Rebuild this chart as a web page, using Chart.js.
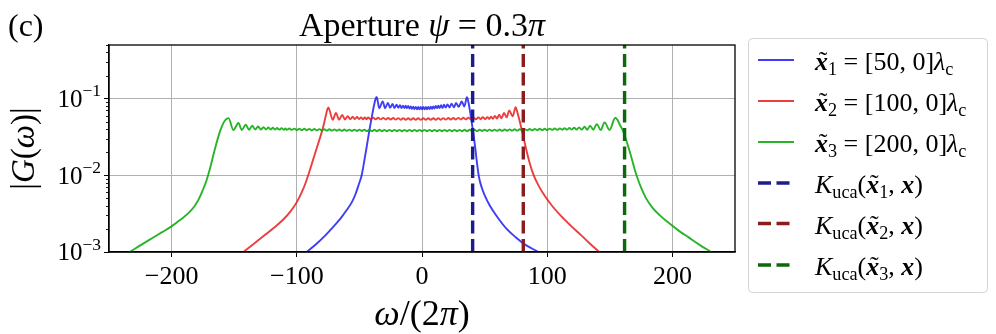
<!DOCTYPE html>
<html><head><meta charset="utf-8">
<script src="https://cdn.jsdelivr.net/npm/chart.js@4/dist/chart.umd.min.js"></script>
<style>html,body{margin:0;padding:0;background:#fff;overflow:hidden}</style>
</head><body>
<canvas id="c" width="996" height="334"></canvas>
<script>
// ---------------- data ----------------
const xTicks = [-200, -100, 0, 100, 200];
const yMajor = [0.001, 0.01, 0.1];
const yMajorExp = ['\u22123', '\u22122', '\u22121'];
const yMinor = [0.002,0.003,0.004,0.005,0.006,0.007,0.008,0.009,0.02,0.03,0.04,0.05,0.06,0.07,0.08,0.09,0.2,0.3,0.4,0.5];
const kernelX = [40.45, 80.9, 161.8];   // K_uca positions for x1, x2, x3

// |G(omega)| for x1 = [50,0]
const blueX = [-98,-92,-84,-77,-70.8,-65,-60,-56,-53,-50.5,-48.2,-46.2,-44.2,-42.2,-40.2,-38.6,-37.2,-36.2,-34.1,-31.4,-29.5,-27.2,-25.5,-23.5,-22,-20.3,-19,-17.6,-16.4,-15.2,-14,
 -13,-12,-11,-10,-9,-8,-7,-6,-5,-4,-3,-2,-1,0,1,2,3,4,5,6,7,8,9,10,11,12,13,14,
 15.2,16.4,17.6,19,20.3,22,23.5,25.5,27.2,29.3,31.7,33.8,35.9,37,38.3,39.6,41,42.5,44,45.5,47.5,50,54,60,67.6,75,83,93,99];
const blueY = [0.00083,0.001,0.00129,0.00166,0.00214,0.00275,0.00355,0.00447,0.00575,0.00759,0.01,0.0151,0.0234,0.0372,0.0562,0.0776,0.0977,0.105,0.075,0.092,0.075,0.088,0.076,0.085,0.0755,0.083,0.076,0.082,0.0755,0.081,0.0755,
 0.0807,0.0751,0.0803,0.0741,0.0792,0.0734,0.0785,0.0729,0.0781,0.0726,0.0778,0.0724,0.0776,0.0724,0.0776,0.0724,0.0778,0.0726,0.0781,0.0729,0.0785,0.0734,0.0792,0.0741,0.0803,0.0751,0.0807,0.0755,
 0.082,0.0757,0.083,0.0762,0.084,0.0765,0.086,0.077,0.088,0.078,0.092,0.079,0.104,0.0912,0.0692,0.0501,0.0355,0.0229,0.0141,0.0095,0.00708,0.0055,0.00407,0.00288,0.002,0.00155,0.00123,0.001,0.00087];

// |G(omega)| for x2 = [100,0]
const redX = [-150,-142.7,-134,-126,-118,-111,-105,-100,-96,-93,-90.5,-88,-85.5,-83,-80.5,-78.5,-76.8,-75.6,-74.8,-71.3,-68.7,-66.3,-63.7,-61.5,-59.3,-57.3,-55.4,-53.6,-51.9,-50.3,-48.7,-47.2,-45.7,-44.2,
 -43,-41,-39,-37,-35,-33,-31,-29,-27,-25,-23,-21,-19,-17,-15,-13,-11,-9,-7,-5,-3,-1,1,3,5,7,9,11,13,15,17,19,21,23,25,27,29,31,33,35,37,39,41,43,45,
 46.8,48.6,50.4,52.3,53.7,55.1,56.6,58.2,59.9,61.6,63.5,65.5,67.6,69.7,72.4,74.8,76,77.5,79,81,83.5,86,89,93,98,104,111,119,127,134,141.6,148];
const redY = [0.00081,0.001,0.00129,0.00164,0.00209,0.00263,0.00339,0.00447,0.00603,0.00794,0.0105,0.0141,0.0191,0.0257,0.0347,0.0457,0.0603,0.0724,0.0767,0.053,0.065,0.053,0.061,0.0535,0.059,0.054,0.058,0.0541,0.0575,0.054,0.057,0.0539,0.0568,0.0539,
 0.0567,0.0538,0.0565,0.0537,0.0563,0.0536,0.0561,0.0535,0.0559,0.0534,0.0558,0.0532,0.0557,0.0531,0.0556,0.053,0.0555,0.0529,0.0555,0.0529,0.0555,0.0528,0.0555,0.0529,0.0555,0.0529,0.0555,0.053,0.0556,0.0531,0.0557,0.0532,0.0558,0.0533,0.0559,0.0534,0.0561,0.0535,0.0563,0.0536,0.0565,0.0537,0.0567,0.0538,0.057,
 0.0539,0.0573,0.054,0.0574,0.0542,0.058,0.0545,0.0595,0.0549,0.0615,0.0554,0.065,0.057,0.070,0.0587,0.077,0.0676,0.055,0.0437,0.0316,0.0209,0.0145,0.0102,0.0074,0.0054,0.00398,0.00295,0.00219,0.00166,0.00129,0.001,0.00081];

// |G(omega)| for x3 = [200,0]
const greenX = [-240,-233.5,-225,-216,-208,-200,-193,-187,-182,-178,-175,-172,-169.5,-167,-164.5,-162,-160,-158,-156.2,-154.5,-150.7,-146.6,-144,-140.8,-138.2,-135.6,-133.2,-130.9,-128.7,-126.6,-124.6,-122.7,-120.9,-119.1,-117.4,-115.7,-114,-112.2,-110.2,-109,
 -108,-106,-104,-102,-100,-98,-96,-94,-92,-90,-88,-86,-84,-82,-80,-78,-76,-74,-72,-70,-68,-66,-64,-62,-60,-58,-56,-54,-52,-50,-48,-46,-44,-42,-40,-38,-36,-34,-32,-30,-28,-26,-24,-22,-20,-18,-16,-14,-12,-10,-8,-6,-4,-2,
 0,2,4,6,8,10,12,14,16,18,20,22,24,26,28,30,32,34,36,38,40,42,44,46,48,50,52,54,56,58,60,62,64,66,68,70,72,74,76,78,80,82,84,86,88,90,92,94,96,98,100,102,104,106,108,
 110,112,113.9,115.8,117.7,119.6,121.5,123.5,125.5,127.6,129.8,132,134.3,136.8,139.6,142.8,145.8,149.8,154.4,156.2,158,160,162.5,165,167.5,170,172,175,179,184,190,197,205,213,222,231,238];
const greenY = [0.00087,0.001,0.00122,0.0015,0.0018,0.00216,0.00263,0.00316,0.00389,0.005,0.00646,0.0087,0.012,0.0174,0.0251,0.0347,0.0427,0.0501,0.0543,0.0556,0.039,0.048,0.039,0.0457,0.0392,0.0443,0.0394,0.0432,0.0395,0.0425,0.0395,0.042,0.0395,0.0416,0.0394,0.0413,0.0394,0.041,0.0393,0.0408,
 0.0392,0.0407,0.0391,0.0406,0.0389,0.0405,0.0388,0.0404,0.0387,0.0402,0.0386,0.0401,0.0385,0.0400,0.0384,0.0399,0.0383,0.0398,0.0382,0.0397,0.0381,0.0396,0.0380,0.0395,0.0380,0.0394,0.0379,0.0394,0.0378,0.0393,0.0378,0.0393,0.0377,0.0392,0.0377,0.0392,0.0376,0.0392,0.0376,0.0391,0.0376,0.0391,0.0376,0.0391,0.0375,0.0391,0.0375,0.0391,0.0375,0.0391,0.0375,0.0391,0.0375,0.0391,
 0.0375,0.0391,0.0375,0.0391,0.0375,0.0391,0.0375,0.0391,0.0375,0.0391,0.0375,0.0391,0.0376,0.0391,0.0376,0.0391,0.0376,0.0392,0.0376,0.0392,0.0377,0.0392,0.0377,0.0393,0.0378,0.0393,0.0378,0.0394,0.0379,0.0394,0.0380,0.0395,0.0380,0.0396,0.0381,0.0397,0.0382,0.0398,0.0383,0.0399,0.0384,0.0400,0.0385,0.0401,0.0386,0.0402,0.0387,0.0404,0.0388,0.0405,0.0389,0.0406,0.0391,0.0407,0.0392,
 0.0408,0.0393,0.041,0.0394,0.0413,0.0394,0.0417,0.0394,0.0422,0.0394,0.043,0.0393,0.0445,0.0392,0.0465,0.039,0.049,0.039,0.0562,0.0525,0.0457,0.0398,0.0309,0.0229,0.0166,0.0117,0.0093,0.0069,0.005,0.0038,0.003,0.0024,0.0019,0.00155,0.00123,0.001,0.00085];

// ---------------- styling ----------------
const FONT = '"Liberation Serif", "DejaVu Serif", serif';
const C_BLUE = 'rgba(20,20,245,0.82)';
const C_RED = 'rgba(232,20,20,0.82)';
const C_GREEN = 'rgba(10,170,10,0.88)';
const C_KB = '#1c1c8c';
const C_KR = '#8a1c1c';
const C_KG = '#0a690a';

const toPts = (xs, ys) => xs.map((x, i) => ({x: x, y: ys[i]}));
const vline = (x) => [{x: x, y: 0.001}, {x: x, y: 0.5}];

function fontFor(st, size) {
  const s = st === 'i' ? 'italic ' : st === 'bi' ? 'italic bold ' : '';
  return s + size + 'px ' + FONT;
}
function segSize(g, size) { return (g.sub || g.sup) ? size * 0.7 : size; }
function richWidth(ctx, segs, size) {
  let w = 0;
  for (const g of segs) { ctx.font = fontFor(g.st, segSize(g, size)); w += ctx.measureText(g.t).width; }
  return w;
}
function drawRich(ctx, segs, x, y, size) {
  let cx = x;
  for (const g of segs) {
    const sz = segSize(g, size);
    ctx.font = fontFor(g.st, sz);
    const dy = g.sub ? size * 0.2 : g.sup ? -size * 0.42 : 0;
    ctx.fillText(g.t, cx, y + dy);
    const w = ctx.measureText(g.t).width;
    if (g.tilde) {
      ctx.font = fontFor('n', sz);
      const tw = ctx.measureText('\u02DC').width;
      ctx.fillText('\u02DC', cx + w / 2 - tw / 2 + sz * 0.06, y + dy - sz * 0.02);
    }
    cx += w;
  }
}

const legendItems = [
  {color: C_BLUE, dash: false, segs: [{t:'x',st:'bi',tilde:true},{t:'1',sub:true},{t:' = [50, 0]'},{t:'\u03BB',st:'i'},{t:'c',sub:true}]},
  {color: C_RED, dash: false, segs: [{t:'x',st:'bi',tilde:true},{t:'2',sub:true},{t:' = [100, 0]'},{t:'\u03BB',st:'i'},{t:'c',sub:true}]},
  {color: C_GREEN, dash: false, segs: [{t:'x',st:'bi',tilde:true},{t:'3',sub:true},{t:' = [200, 0]'},{t:'\u03BB',st:'i'},{t:'c',sub:true}]},
  {color: C_KB, dash: true, segs: [{t:'K',st:'i'},{t:'uca',sub:true},{t:'('},{t:'x',st:'bi',tilde:true},{t:'1',sub:true},{t:', '},{t:'x',st:'bi'},{t:')'}]},
  {color: C_KR, dash: true, segs: [{t:'K',st:'i'},{t:'uca',sub:true},{t:'('},{t:'x',st:'bi',tilde:true},{t:'2',sub:true},{t:', '},{t:'x',st:'bi'},{t:')'}]},
  {color: C_KG, dash: true, segs: [{t:'K',st:'i'},{t:'uca',sub:true},{t:'('},{t:'x',st:'bi',tilde:true},{t:'3',sub:true},{t:', '},{t:'x',st:'bi'},{t:')'}]}
];

const deco = {
  id: 'deco',
  beforeDraw(chart) {
    const c = chart.ctx; c.save(); c.fillStyle = '#fff'; c.fillRect(0, 0, chart.width, chart.height); c.restore();
  },
  afterDraw(chart) {
    const c = chart.ctx, a = chart.chartArea, ys = chart.scales.y;
    c.save();
    c.fillStyle = '#000'; c.textBaseline = 'alphabetic'; c.textAlign = 'left';
    // frame
    c.strokeStyle = '#000'; c.lineWidth = 1.3;
    c.strokeRect(a.left, a.top, a.right - a.left, a.bottom - a.top);
    // minor y ticks
    c.lineWidth = 0.9;
    for (const v of yMinor) {
      const y = Math.round(ys.getPixelForValue(v)) + 0.5;
      c.beginPath(); c.moveTo(a.left - 3, y); c.lineTo(a.left, y); c.stroke();
    }
    // y tick labels
    const ts = 25;
    yMajor.forEach((v, i) => {
      const y = ys.getPixelForValue(v);
      const segs = [{t:'10'}, {t: yMajorExp[i], sup: true}];
      const w = richWidth(c, segs, ts);
      drawRich(c, segs, a.left - 8 - w, y + ts * 0.33, ts);
    });
    // title
    const tsegs = [{t:'Aperture '},{t:'\u03C8',st:'i'},{t:' = 0.3'},{t:'\u03C0',st:'i'}];
    const tw = richWidth(c, tsegs, 34);
    drawRich(c, tsegs, (a.left + a.right) / 2 - tw / 2, 36, 34);
    // x axis title
    const xsegs = [{t:'\u03C9',st:'i'},{t:'/(2'},{t:'\u03C0',st:'i'},{t:')'}];
    const xw = richWidth(c, xsegs, 36);
    drawRich(c, xsegs, (a.left + a.right) / 2 - xw / 2, 325, 36);
    // y axis title
    const ysegs = [{t:'|'},{t:'G',st:'i'},{t:'('},{t:'\u03C9',st:'i'},{t:')'},{t:'|'}];
    const yw = richWidth(c, ysegs, 33);
    c.save(); c.translate(34, (a.top + a.bottom) / 2); c.rotate(-Math.PI / 2);
    drawRich(c, ysegs, -yw / 2, 0, 33); c.restore();
    // "(c)"
    c.font = '32px ' + FONT; c.fillText('(c)', 8, 36);
    // legend
    const lx = 748.5, ly = 38.5, lw = 239, lh = 254;
    c.beginPath(); c.roundRect(lx, ly, lw, lh, 4);
    c.fillStyle = 'rgba(255,255,255,0.9)'; c.fill();
    c.strokeStyle = '#d4d4d4'; c.lineWidth = 1; c.stroke();
    const rows = [60, 101, 142, 183, 223.5, 265];
    legendItems.forEach((it, i) => {
      const yy = rows[i];
      c.strokeStyle = it.color;
      c.lineWidth = it.dash ? 3.4 : 1.9;
      c.setLineDash(it.dash ? [13, 5.5] : []);
      c.beginPath(); c.moveTo(758, yy); c.lineTo(794, yy); c.stroke();
      c.setLineDash([]);
      c.fillStyle = '#000';
      drawRich(c, it.segs, 815, yy + 10, 26);
    });
    c.restore();
  }
};

const solid = (label, pts, color, order) => ({label, data: pts, borderColor: color, borderWidth: 1.9, pointRadius: 0, fill: false, cubicInterpolationMode: 'monotone', clip: 0, order});
const dashed = (label, x, color) => ({label, data: vline(x), borderColor: color, borderWidth: 3.4, borderDash: [13, 5.5], pointRadius: 0, fill: false, clip: 0, order: 0});

new Chart(document.getElementById('c'), {
  type: 'line',
  data: {
    datasets: [
      solid('x1', toPts(blueX, blueY), C_BLUE, 3),
      solid('x2', toPts(redX, redY), C_RED, 2),
      solid('x3', toPts(greenX, greenY), C_GREEN, 1),
      dashed('K1', kernelX[0], C_KB),
      dashed('K2', kernelX[1], C_KR),
      dashed('K3', kernelX[2], C_KG)
    ]
  },
  options: {
    responsive: false, animation: false, devicePixelRatio: 1,
    layout: {padding: {left: 0, right: 261, top: 45, bottom: 0}},
    plugins: {legend: {display: false}, title: {display: false}, tooltip: {enabled: false}},
    scales: {
      x: {
        type: 'linear', min: -250, max: 250,
        afterBuildTicks: s => { s.ticks = xTicks.map(v => ({value: v})); },
        afterFit: s => { s.height = 82; },
        grid: {color: '#b0b0b0', lineWidth: 1, tickLength: 5, tickColor: '#000', tickWidth: 1},
        border: {display: true, color: '#000', width: 1.3},
        ticks: {font: {family: FONT, size: 26}, color: '#000', padding: 5, maxRotation: 0, autoSkip: false,
          callback: v => (v < 0 ? '\u2212' + (-v) : '' + v)}
      },
      y: {
        type: 'logarithmic', min: 0.001, max: 0.5,
        afterBuildTicks: s => { s.ticks = yMajor.concat(yMinor).map(v => ({value: v})); },
        afterFit: s => { s.width = 109; },
        grid: {
          color: c => (c.tick && yMajor.includes(c.tick.value)) ? '#b0b0b0' : 'rgba(0,0,0,0)',
          tickColor: c => (c.tick && yMajor.includes(c.tick.value)) ? '#000' : 'rgba(0,0,0,0)',
          lineWidth: 1, tickLength: 5, tickWidth: 1
        },
        border: {display: true, color: '#000', width: 1.3},
        ticks: {display: false}
      }
    }
  },
  plugins: [deco]
});
</script>
</body></html>
